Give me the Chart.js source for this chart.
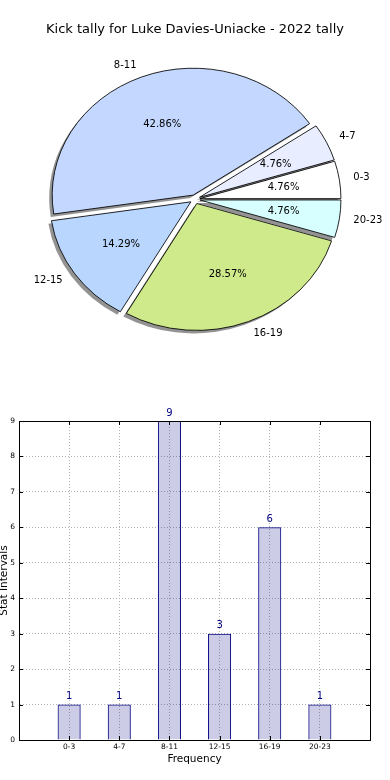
<!DOCTYPE html>
<html><head><meta charset="utf-8">
<script src="https://cdn.jsdelivr.net/npm/chart.js@4.4.0/dist/chart.umd.min.js"></script>
<style>
html,body{margin:0;padding:0;background:#fff;width:390px;height:780px;overflow:hidden}
canvas{position:absolute;left:0}
#pie{top:0}
#bar{top:400px}
</style></head>
<body>
<canvas id="pie" width="390" height="400"></canvas>
<canvas id="bar" width="390" height="380"></canvas>
<script>
const chartTitle = 'Kick tally for Luke Davies-Uniacke - 2022 tally';
const categories = ['0-3', '4-7', '8-11', '12-15', '16-19', '20-23'];
const tallies = [1, 1, 9, 3, 6, 1];
const pieColors = ['#ffffff', '#e8eeff', '#c4d8ff', '#b8d6fe', '#cfea8a', '#d8ffff'];
const yTicks = [0, 1, 2, 3, 4, 5, 6, 7, 8, 9];
const xTitle = 'Frequency';
const yTitle = 'Stat Intervals';

Chart.defaults.font.family = 'DejaVu Sans';
Chart.defaults.color = '#000';

const SQUASH = 0.9, EXPLODE = 5, SH_DX = -3, SH_DY = 3;
function pieCenter(chart) {
  const a = chart.chartArea;
  return { cx: (a.left + a.right) / 2, cy: (a.top + a.bottom) / 2 };
}
function applyEllipse(ctx, chart) {
  const { cx, cy } = pieCenter(chart);
  ctx.translate(cx, cy); ctx.scale(1, -SQUASH); ctx.translate(-cx, -cy);
}
const total = tallies.reduce((a, b) => a + b, 0);

const piePlugin = {
  id: 'mplPie',
  afterDatasetsUpdate(chart) {
    chart.getDatasetMeta(0).data.forEach(arc => {
      const m = (arc.startAngle + arc.endAngle) / 2;
      arc.x += Math.cos(m) * EXPLODE;
      arc.y += Math.sin(m) * EXPLODE;
    });
  },
  beforeDatasetsDraw(chart) {
    const ctx = chart.ctx, meta = chart.getDatasetMeta(0);
    ctx.save();
    ctx.translate(SH_DX, SH_DY);
    applyEllipse(ctx, chart);
    ctx.fillStyle = 'rgba(40,40,40,0.5)';
    meta.data.forEach(arc => {
      ctx.beginPath();
      ctx.moveTo(arc.x, arc.y);
      ctx.arc(arc.x, arc.y, arc.outerRadius, arc.startAngle, arc.endAngle);
      ctx.closePath();
      ctx.fill();
    });
    ctx.restore();
    ctx.save();
    applyEllipse(ctx, chart);
  },
  afterDatasetsDraw(chart) {
    const ctx = chart.ctx;
    ctx.restore();
    const { cx, cy } = pieCenter(chart);
    const toS = (lx, ly) => [lx, cy - SQUASH * (ly - cy)];
    ctx.save();
    ctx.font = '10px "DejaVu Sans"';
    ctx.fillStyle = '#000';
    ctx.textBaseline = 'middle';
    chart.getDatasetMeta(0).data.forEach((arc, i) => {
      const m = (arc.startAngle + arc.endAngle) / 2, R = arc.outerRadius;
      const [tx, ty] = toS(arc.x + Math.cos(m) * R * 1.1, arc.y + Math.sin(m) * R * 1.1);
      ctx.textAlign = Math.cos(m) > 0 ? 'left' : 'right';
      ctx.fillText(categories[i], tx, ty);
      const [px, py] = toS(arc.x + Math.cos(m) * R * 0.6, arc.y + Math.sin(m) * R * 0.6);
      ctx.textAlign = 'center';
      ctx.fillText((tallies[i] / total * 100).toFixed(2) + '%', px, py);
    });
    ctx.restore();
  }
};

new Chart(document.getElementById('pie'), {
  type: 'pie',
  data: {
    labels: categories,
    datasets: [{
      data: tallies,
      backgroundColor: pieColors,
      borderColor: '#000',
      borderWidth: 0.9,
      radius: 141,
      clip: false
    }]
  },
  options: {
    responsive: false,
    animation: false,
    rotation: 90,
    layout: { padding: { left: 0, right: 0, top: 0, bottom: 49 } },
    plugins: {
      legend: { display: false },
      tooltip: { enabled: false },
      title: {
        display: true, text: chartTitle, color: '#000',
        font: { size: 13, weight: 'normal', family: 'DejaVu Sans' },
        padding: { top: 22, bottom: 10 }
      }
    }
  },
  plugins: [piePlugin]
});

const barPlugin = {
  id: 'mplBox',
  afterDatasetsDraw(chart) {
    const ctx = chart.ctx;
    ctx.save();
    ctx.font = '10px "DejaVu Sans"';
    ctx.fillStyle = '#000080';
    ctx.textAlign = 'center';
    ctx.textBaseline = 'bottom';
    chart.getDatasetMeta(0).data.forEach((bar, i) => {
      ctx.fillText(String(tallies[i]), bar.x, bar.y - 3);
    });
    ctx.restore();
  },
  afterDraw(chart) {
    const ctx = chart.ctx, a = chart.chartArea;
    const xs = chart.scales.x, ys = chart.scales.y;
    ctx.save();
    ctx.strokeStyle = '#000';
    ctx.lineWidth = 1;
    ctx.strokeRect(Math.round(a.left) + 0.5, Math.round(a.top) + 0.5, Math.round(a.right - a.left), Math.round(a.bottom - a.top));
    ctx.beginPath();
    yTicks.forEach(v => {
      const y = Math.round(ys.getPixelForValue(v)) + 0.5;
      ctx.moveTo(a.left, y); ctx.lineTo(a.left + 4, y);
      ctx.moveTo(a.right, y); ctx.lineTo(a.right - 4, y);
    });
    categories.forEach((c, i) => {
      const x = Math.round(xs.getPixelForValue(i)) + 0.5;
      ctx.moveTo(x, a.bottom); ctx.lineTo(x, a.bottom - 4);
      ctx.moveTo(x, a.top); ctx.lineTo(x, a.top + 4);
    });
    ctx.stroke();
    ctx.restore();
  }
};

new Chart(document.getElementById('bar'), {
  type: 'bar',
  data: {
    datasets: [{
      data: categories.map((c, i) => ({ x: i, y: tallies[i] })),
      backgroundColor: 'rgba(0,0,128,0.2)',
      borderColor: '#000080',
      borderWidth: 1,
      barPercentage: 0.46,
      categoryPercentage: 1
    }]
  },
  options: {
    responsive: false,
    animation: false,
    layout: { padding: { left: 0, right: 20, top: 21, bottom: 0 } },
    plugins: { legend: { display: false }, tooltip: { enabled: false } },
    scales: {
      x: {
        type: 'linear', min: -1, max: categories.length, offset: false,
        afterFit(s) { s.height = 40; },
        ticks: {
          stepSize: 1, autoSkip: false, maxRotation: 0, padding: 3,
          font: { size: 7.5 }, color: '#000',
          callback: v => (categories[v] !== undefined ? categories[v] : '')
        },
        grid: { color: '#b0b0b0', lineWidth: 1, drawTicks: false, offset: false },
        border: { color: '#000', width: 1, dash: [1, 2] },
        title: { display: true, text: xTitle, font: { size: 10.5 }, color: '#000', padding: { top: 0, bottom: 14 } }
      },
      y: {
        min: 0, max: yTicks[yTicks.length - 1],
        afterFit(s) { s.width = 19; },
        afterBuildTicks(s) { s.ticks = yTicks.map(v => ({ value: v })); },
        ticks: { padding: 4, font: { size: 7.5 }, color: '#000' },
        grid: { color: '#b0b0b0', lineWidth: 1, drawTicks: false },
        border: { color: '#000', width: 1, dash: [1, 2] },
        title: { display: true, text: yTitle, font: { size: 10.5 }, color: '#000', padding: { top: -2, bottom: 0 } }
      }
    }
  },
  plugins: [barPlugin]
});
</script>
</body></html>
